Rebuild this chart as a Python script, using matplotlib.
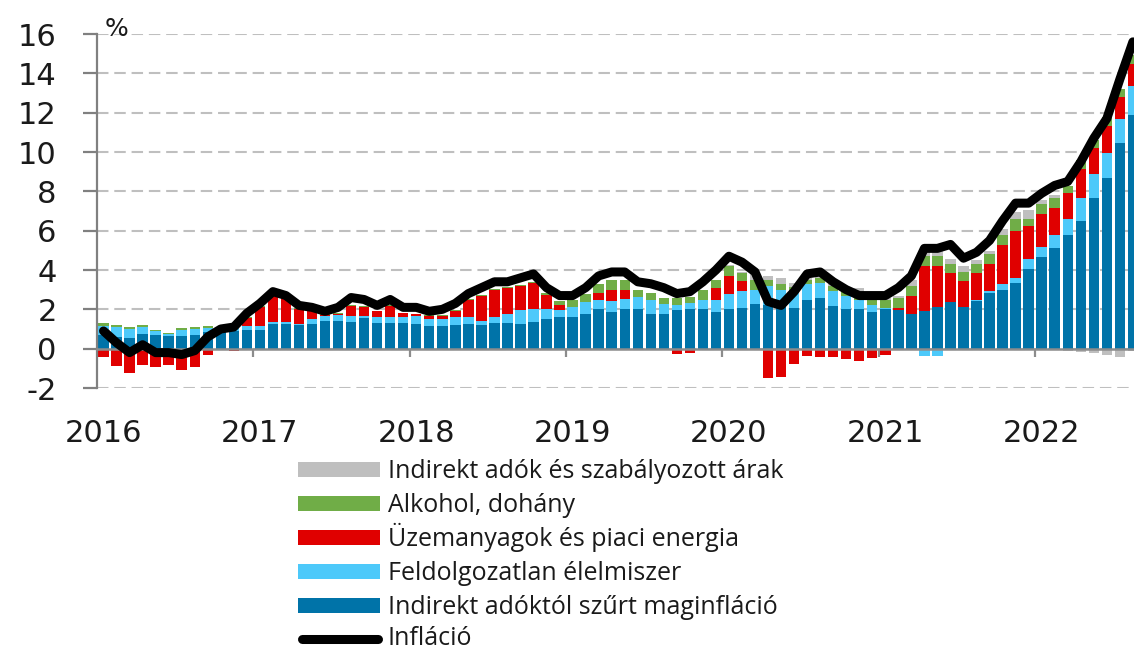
import numpy as np
import matplotlib
matplotlib.use("Agg")
import matplotlib.pyplot as plt
from matplotlib.lines import Line2D
from matplotlib.patches import Rectangle

plt.rcParams["axes.unicode_minus"] = False

# ---------------- data (monthly, Jan 2016 - Aug 2022) ----------------
years = ["2016", "2017", "2018", "2019", "2020", "2021", "2022"]

inflacio = [0.9, 0.3, -0.2, 0.2, -0.2, -0.2, -0.3, -0.1, 0.6, 1.0, 1.1, 1.8,
            2.3, 2.9, 2.7, 2.2, 2.1, 1.9, 2.1, 2.6, 2.5, 2.2, 2.5, 2.1,
            2.1, 1.9, 2.0, 2.3, 2.8, 3.1, 3.4, 3.4, 3.6, 3.8, 3.1, 2.7,
            2.7, 3.1, 3.7, 3.9, 3.9, 3.4, 3.3, 3.1, 2.8, 2.9, 3.4, 4.0,
            4.7, 4.4, 3.9, 2.4, 2.2, 2.9, 3.8, 3.9, 3.4, 3.0, 2.7, 2.7,
            2.7, 3.1, 3.7, 5.1, 5.1, 5.3, 4.6, 4.9, 5.5, 6.5, 7.4, 7.4,
            7.9, 8.3, 8.5, 9.5, 10.7, 11.7, 13.7, 15.6]

maginflacio = [0.70, 0.60, 0.55, 0.75, 0.70, 0.65, 0.65, 0.70, 0.85, 0.95, 0.90, 0.95,
               0.95, 1.25, 1.25, 1.20, 1.25, 1.40, 1.40, 1.35, 1.55, 1.30, 1.30, 1.30,
               1.25, 1.15, 1.15, 1.20, 1.25, 1.20, 1.30, 1.30, 1.27, 1.37, 1.49, 1.63,
               1.63, 1.78, 2.00, 1.88, 2.00, 2.00, 1.75, 1.75, 1.97, 2.00, 2.00, 1.86,
               2.00, 2.08, 2.25, 2.20, 2.10, 2.08, 2.50, 2.60, 2.17, 2.03, 2.00, 1.86,
               2.00, 1.97, 1.75, 1.90, 2.14, 2.37, 2.14, 2.42, 2.85, 2.98, 3.36, 4.03,
               4.68, 5.14, 5.76, 6.49, 7.68, 8.70, 10.47, 11.90]

elelmiszer = [0.45, 0.50, 0.45, 0.35, 0.20, 0.10, 0.30, 0.30, 0.20, 0.05, 0.15, 0.20,
              0.20, 0.10, 0.10, 0.05, 0.25, 0.25, 0.30, 0.30, 0.10, 0.30, 0.30, 0.30,
              0.40, 0.35, 0.35, 0.40, 0.35, 0.20, 0.30, 0.45, 0.70, 0.63, 0.54, 0.35,
              0.51, 0.59, 0.46, 0.55, 0.54, 0.64, 0.72, 0.50, 0.23, 0.34, 0.47, 0.64,
              0.76, 0.85, 0.75, 1.00, 0.90, 0.80, 0.77, 0.76, 0.76, 0.65, 0.50, 0.34,
              0.08, 0.00, 0.00, -0.35, -0.35, 0.00, 0.00, 0.08, 0.08, 0.29, 0.24, 0.51,
              0.49, 0.62, 0.81, 1.19, 1.18, 1.27, 1.23, 1.46]

energia = [-0.40, -0.90, -1.25, -0.85, -0.95, -0.85, -1.10, -0.95, -0.30, -0.05, -0.10, 0.40,
           0.95, 1.35, 1.20, 0.75, 0.45, 0.05, 0.05, 0.50, 0.45, 0.30, 0.55, 0.20,
           0.10, 0.15, 0.15, 0.30, 0.85, 1.30, 1.40, 1.35, 1.22, 1.36, 0.68, 0.22,
           -0.05, 0.00, 0.39, 0.55, 0.44, 0.00, 0.00, -0.05, -0.29, -0.20, 0.00, 0.60,
           0.94, 0.51, 0.00, -1.50, -1.45, -0.80, -0.37, -0.40, -0.40, -0.50, -0.65, -0.45,
           -0.30, 0.12, 0.95, 2.30, 2.06, 1.46, 1.30, 1.36, 1.36, 1.98, 2.38, 1.70,
           1.66, 1.41, 1.33, 1.44, 1.34, 1.33, 1.10, 1.14]

alkohol = [0.15, 0.10, 0.10, 0.10, 0.05, 0.05, 0.08, 0.08, 0.08, 0.00, 0.02, 0.05,
           0.05, 0.05, 0.05, 0.05, 0.03, 0.05, 0.05, 0.08, 0.05, 0.03, 0.05, 0.03,
           0.03, 0.05, 0.05, 0.08, 0.08, 0.05, 0.05, 0.05, 0.05, 0.05, 0.12, 0.20,
           0.33, 0.43, 0.42, 0.52, 0.52, 0.36, 0.38, 0.35, 0.40, 0.30, 0.53, 0.40,
           0.50, 0.42, 0.50, 0.30, 0.30, 0.25, 0.23, 0.24, 0.27, 0.25, 0.26, 0.30,
           0.38, 0.48, 0.50, 0.50, 0.50, 0.46, 0.46, 0.43, 0.50, 0.55, 0.59, 0.33,
           0.51, 0.51, 0.37, 0.48, 0.40, 0.50, 0.40, 0.45]

adok = [0.00, 0.00, 0.00, 0.00, 0.00, 0.00, 0.00, 0.00, 0.00, 0.00, 0.00, 0.00,
        0.00, 0.00, 0.00, 0.00, 0.00, 0.00, 0.00, 0.00, 0.00, 0.00, 0.00, 0.00,
        0.00, 0.00, 0.00, 0.00, 0.00, 0.00, 0.00, 0.00, 0.00, 0.00, 0.00, 0.00,
        0.00, 0.00, 0.00, 0.00, 0.00, 0.00, 0.00, 0.00, 0.00, 0.00, 0.00, 0.00,
        0.05, 0.05, 0.30, 0.20, 0.30, 0.20, 0.10, 0.30, 0.10, 0.10, 0.30, 0.10,
        0.10, 0.10, 0.30, 0.25, 0.30, 0.25, 0.30, 0.20, 0.20, 0.30, 0.40, 0.50,
        0.20, 0.15, -0.10, -0.15, -0.20, -0.30, -0.40, -0.10]

labels = ["Indirekt adóktól szűrt maginfláció", "Feldolgozatlan élelmiszer",
          "Üzemanyagok és piaci energia", "Alkohol, dohány",
          "Indirekt adók és szabályozott árak"]
line_label = "Infláció"
colors = ["#0073A8", "#4DC9FA", "#E00000", "#70AD47", "#BFBFBF"]
series = [maginflacio, elelmiszer, energia, alkohol, adok]

# ---------------- figure ----------------
W, H = 1134, 652
fig = plt.figure(figsize=(W / 100, H / 100), dpi=100)
ax = fig.add_axes([97 / W, 1 - 388 / H, (W - 97) / W, (388 - 34) / H])

n = len(inflacio)
x = np.arange(n)
pos_bottom = np.zeros(n)
neg_bottom = np.zeros(n)
for vals, col in zip(series, colors):
    v = np.array(vals, dtype=float)
    pos = np.where(v > 0, v, 0.0)
    neg = np.where(v < 0, v, 0.0)
    ax.bar(x, pos, bottom=pos_bottom, width=0.8, color=col, zorder=2, linewidth=0)
    ax.bar(x, neg, bottom=neg_bottom, width=0.8, color=col, zorder=2, linewidth=0)
    pos_bottom += pos
    neg_bottom += neg

ax.plot(x, inflacio, color="black", lw=6.5, solid_joinstyle="round",
        solid_capstyle="round", zorder=4)

# axes styling
ax.set_xlim(-0.5, (W - 97) / 13.03 - 0.5)
ax.set_ylim(-2, 16)
ax.set_yticks(np.arange(-2, 17, 2))
ax.yaxis.grid(True, color="#BFBFBF", linestyle=(0, (5.5, 2.8)), lw=1.5, zorder=0)
ax.set_axisbelow(True)
for s in ["top", "right"]:
    ax.spines[s].set_visible(False)
ax.spines["left"].set_color("#808080")
ax.spines["left"].set_linewidth(1.6)
ax.spines["bottom"].set_position(("data", 0))
ax.spines["bottom"].set_color("#8C8C8C")
ax.spines["bottom"].set_linewidth(1.8)
ax.spines["bottom"].set_zorder(3)

ax.tick_params(axis="y", length=10, width=1.6, color="#808080", pad=19,
               labelsize=22, labelcolor="#1a1a1a")

year_bounds = np.arange(12, n, 12) - 0.5
ax.set_xticks(year_bounds)
ax.set_xticklabels([""] * len(year_bounds))
ax.tick_params(axis="x", which="major", length=6, width=1.6, color="#8C8C8C", direction="out")
jan_pos = np.arange(0, n, 12)
ax.set_xticks(jan_pos, minor=True)
ax.set_xticklabels(years, minor=True)
ax.tick_params(axis="x", which="minor", length=0, pad=51, labelsize=22, labelcolor="#1a1a1a")

fig.text(105 / W, 1 - 36 / H, "%", fontsize=18, ha="left", va="baseline", color="#1a1a1a")

# legend (drawn in figure pixel coordinates, fixed row pitch)
row_y = [469.5, 503.5, 537.5, 571.5, 605.5, 639.0]
order = [4, 3, 2, 1, 0]
hx0, hx1, tx = 298, 380, 388
for r, i in enumerate(order):
    cy = row_y[r]
    fig.patches.append(Rectangle((hx0 / W, 1 - (cy + 7.5) / H), (hx1 - hx0) / W, 15 / H,
                                 transform=fig.transFigure, facecolor=colors[i],
                                 edgecolor="none"))
    fig.text(tx / W, 1 - (cy + 8) / H, labels[i], ha="left", va="baseline",
             family="Open Sans", fontsize=18, color="#1a1a1a")
cy = row_y[5]
fig.lines.append(Line2D([(hx0 + 4) / W, (hx1 - 2) / W], [1 - cy / H, 1 - cy / H],
                        transform=fig.transFigure, color="black", lw=6.5,
                        solid_capstyle="round"))
fig.text(tx / W, 1 - (cy + 6) / H, line_label, ha="left", va="baseline",
         family="Open Sans", fontsize=18, color="#1a1a1a")

fig.savefig("out.png", dpi=100)
